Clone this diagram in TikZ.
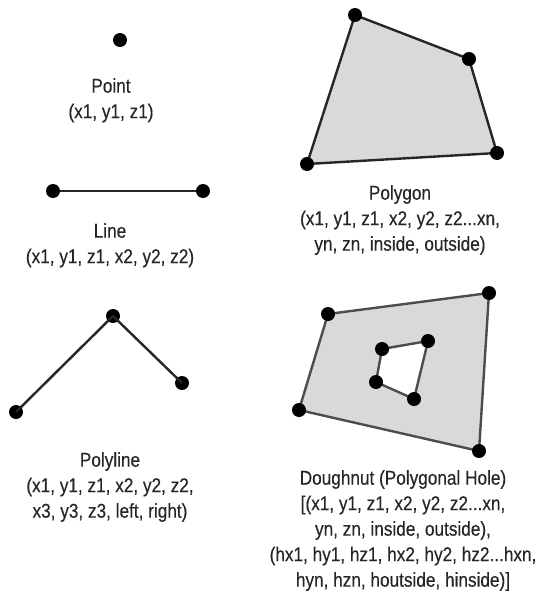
\documentclass[tikz,border=0pt]{standalone}
\usepackage{fontspec}
\setmainfont{Liberation Sans}[FakeStretch=0.86,FakeBold=0.3]
\begin{document}
\begin{tikzpicture}[x=1pt,y=-1pt,
  vtx/.style={circle,fill=black,inner sep=0pt,minimum size=14pt},
  lbl/.style={align=center,anchor=north,inner sep=0pt,text=black!85,
    font=\fontsize{20}{25.5}\selectfont},
  edge/.style={line width=2.4pt,draw=black!85},
  hedge/.style={line width=2.4pt,draw=black!70}]
\useasboundingbox (0,0) rectangle (538,602);
% Point
\node[vtx] (p1) at (120,40) {};
\node[lbl] (tpoint) at (111,78) {Point\\(x1, y1, z1)};
% Line
\node[vtx] (l1) at (53,191) {};
\node[vtx] (l2) at (203,191) {};
\draw[edge] (l1) -- (l2);
\node[lbl] (tline) at (110,223) {Line\\(x1, y1, z1, x2, y2, z2)};
% Polyline
\node[vtx] (pl1) at (16,412) {};
\node[vtx] (pl2) at (113,316) {};
\node[vtx] (pl3) at (182,383) {};
\draw[edge] (pl1.center) -- (pl2.center) -- (pl3.center);
\node[lbl] (tpolyline) at (110,452) {Polyline\\(x1, y1, z1, x2, y2, z2,\\x3, y3, z3, left, right)};
% Polygon
\coordinate (g1) at (355,15);
\coordinate (g2) at (469,59);
\coordinate (g3) at (497,153);
\coordinate (g4) at (307,164);
\draw[edge,fill=black!15] (g1) -- (g2) -- (g3) -- (g4) -- cycle;
\foreach \v in {g1,g2,g3,g4} \node[vtx] (n\v) at (\v) {};
\node[lbl] (tpolygon) at (400,185) {Polygon\\(x1, y1, z1, x2, y2, z2...xn,\\yn, zn, inside, outside)};
% Doughnut
\coordinate (d1) at (328,314);
\coordinate (d2) at (489,293);
\coordinate (d3) at (479,451);
\coordinate (d4) at (299,410);
\coordinate (h1) at (382,349);
\coordinate (h2) at (428,341);
\coordinate (h3) at (414,399);
\coordinate (h4) at (376,382);
\draw[hedge,fill=black!15,even odd rule] (d1) -- (d2) -- (d3) -- (d4) -- cycle
  (h1) -- (h2) -- (h3) -- (h4) -- cycle;
\foreach \v in {d1,d2,d3,d4,h1,h2,h3,h4} \node[vtx] (n\v) at (\v) {};
\node[lbl] (tdonut) at (403,470) {Doughnut (Polygonal Hole)\\{[}(x1, y1, z1, x2, y2, z2...xn,\\yn, zn, inside, outside),\\(hx1, hy1, hz1, hx2, hy2, hz2...hxn,\\hyn, hzn, houtside, hinside){]}};
\end{tikzpicture}
\end{document}
